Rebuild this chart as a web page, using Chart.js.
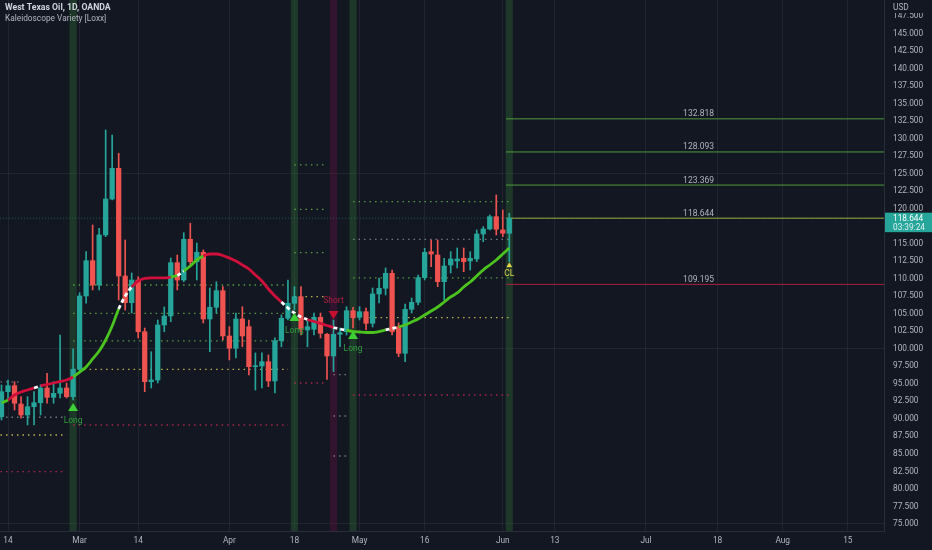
<!DOCTYPE html>
<html>
<head>
<meta charset="utf-8">
<script src="https://cdn.jsdelivr.net/npm/chart.js@4.4.1/dist/chart.umd.min.js"></script>
<style>
  html, body { margin: 0; padding: 0; background: #131722; }
  #wrap { width: 932px; height: 550px; }
</style>
</head>
<body>
<div id="wrap"><canvas id="grafico"></canvas></div>
<script>
// daily bars, index 0 = Feb 14 (weekends and Good Friday skipped)
var firstBar = -1;

var opens = [90.31, 93.88, 94.74, 92.13, 90.56, 91.74, 92.31, 94.41, 93.08, 93.65,
  94.41, 93.17, 97.08, 107.54, 112.58, 109.11, 116.25, 121.38, 125.76, 110.39,
  106.58, 109.82, 102.44, 95.31, 95.55, 103.40, 104.69, 112.29, 109.82, 115.63,
  112.44, 113.78, 104.26, 105.93, 108.30, 101.83, 100.08, 104.26, 103.16, 97.45,
  97.55, 98.16, 95.41, 101.16, 104.36, 106.50, 107.44, 102.69, 102.79, 104.50,
  102.07, 98.98, 102.07, 102.44, 105.44, 104.50, 105.30, 103.64, 107.83, 108.64,
  110.78, 103.16, 99.36, 105.64, 106.64, 110.15, 113.86, 113.39, 109.58, 111.96,
  112.54, 112.92, 112.54, 112.82, 116.39, 117.10, 118.86, 116.96, 116.49];

var highs = [94.84, 95.55, 95.31, 93.17, 93.17, 93.88, 94.84, 96.51, 95.31, 101.97,
  95.12, 99.98, 108.01, 113.86, 117.67, 117.20, 131.23, 130.52, 127.91, 115.53,
  110.82, 110.29, 102.97, 99.59, 104.11, 105.97, 112.96, 113.39, 116.57, 117.92,
  115.10, 114.11, 108.68, 109.58, 108.87, 103.16, 105.11, 106.01, 104.11, 99.41,
  99.41, 99.12, 101.55, 104.83, 109.82, 108.87, 108.87, 104.11, 105.11, 105.11,
  102.22, 104.11, 102.97, 106.01, 105.93, 106.01, 105.83, 108.68, 110.11, 111.54,
  111.25, 103.69, 106.40, 107.25, 110.54, 114.35, 115.53, 115.53, 112.92, 113.86,
  114.39, 114.39, 113.86, 116.96, 117.43, 119.10, 121.95, 119.81, 119.34];

var lows = [89.84, 92.70, 91.27, 90.09, 89.13, 89.13, 90.56, 92.23, 92.23, 92.98,
  92.98, 92.70, 96.51, 106.50, 108.40, 108.40, 116.00, 121.24, 106.97, 105.54,
  105.11, 101.55, 93.88, 94.41, 95.12, 102.44, 103.87, 108.40, 109.58, 111.72,
  109.82, 103.69, 99.59, 105.11, 101.26, 98.41, 98.69, 100.30, 96.27, 94.12,
  94.41, 94.60, 93.70, 100.30, 104.11, 105.54, 101.97, 100.30, 101.97, 101.55,
  95.65, 96.74, 100.30, 101.97, 102.97, 104.11, 102.69, 103.12, 106.54, 107.68,
  101.97, 98.88, 98.16, 105.11, 106.26, 109.82, 111.72, 108.87, 106.97, 110.82,
  111.54, 111.01, 111.25, 112.44, 115.29, 116.96, 116.25, 116.00, 112.44];

var closes = [93.88, 94.74, 92.23, 90.56, 91.74, 92.31, 94.41, 93.08, 93.65, 94.41,
  93.17, 97.08, 107.54, 112.58, 109.11, 116.25, 121.38, 125.76, 110.39, 106.58,
  109.82, 102.44, 95.31, 95.55, 103.40, 104.69, 112.29, 109.82, 115.63, 112.44,
  113.78, 104.26, 105.93, 108.30, 101.83, 100.08, 104.26, 101.83, 97.45, 97.59,
  98.16, 95.41, 101.16, 104.36, 106.50, 107.44, 102.79, 103.16, 104.50, 102.22,
  98.98, 102.07, 102.30, 105.44, 104.44, 105.30, 103.64, 107.83, 108.64, 110.78,
  102.44, 99.36, 105.64, 106.64, 110.15, 113.78, 113.53, 109.58, 111.82, 112.82,
  112.82, 112.44, 112.92, 116.39, 117.10, 118.86, 117.06, 116.49, 118.644];

// Kaleidoscope Variety line, one value per bar
var kaleido = [92.27, 92.70, 93.41, 93.84, 94.12, 94.41, 94.70, 94.91, 95.12, 95.34,
  95.55, 95.98, 96.69, 97.41, 98.55, 99.69, 101.26, 103.26, 105.68, 107.54,
  108.82, 109.68, 110.04, 110.11, 110.11, 110.11, 110.25, 110.47, 111.11, 111.82,
  112.68, 113.25, 113.53, 113.53, 113.32, 112.96, 112.53, 111.96, 111.39, 110.54,
  109.68, 108.54, 107.54, 106.68, 105.83, 105.11, 104.54, 104.19, 103.90, 103.62,
  103.33, 103.04, 102.83, 102.62, 102.47, 102.40, 102.33, 102.33, 102.47, 102.69,
  102.90, 103.12, 103.40, 103.83, 104.26, 104.83, 105.40, 105.97, 106.68, 107.40,
  107.97, 108.82, 109.54, 110.39, 111.25, 111.96, 112.68, 113.53, 114.39];
// u = up (green), d = down (red), t = transition (white dashes)
var kaleidoTrend = ['udddd', 't', 'ddddd', 'uuuuuuu', 'tt', 'dddddd', 'u', 't', 'uuu',
  'dddddddddddd', 'tttt', 'dddd', 'tt', 'uuuuuu', 'tt', 'uuuuuuuuuuuuuuuuuu'].join('');

// signals
var signalBars = [10, 44, 50, 53, 77];
var signalTypes = ['Long', 'Long', 'Short', 'Long', 'CL'];

// dotted levels of each signal
var levelFrom = [-2, -2, -2, -2, 10, 10, 10, 10, 10, 44, 44, 44, 44, 44, 50, 50, 50, 53, 53, 53, 53, 53];
var levelTo = [2, 9, 9, 9, 43, 43, 43, 43, 43, 49, 49, 49, 49, 49, 52, 52, 52, 77, 77, 77, 77, 77];
var levelPrice = [95.27, 90.23, 87.70, 82.46, 109.11, 105.07, 101.12, 97.08, 89.13,
  126.24, 119.91, 113.72, 107.44, 95.12, 96.31, 90.41, 84.70, 121.00, 115.63, 110.11, 104.44, 93.41];
var levelKind = ['hit', 'hit', 'entry', 'stop', 'tp', 'tp', 'tp', 'entry', 'stop',
  'tp', 'tp', 'tp', 'entry', 'stop', 'hit', 'hit', 'hit', 'tp', 'hit', 'tp', 'entry', 'stop'];

// levels projected after the last bar
var finalPrices = [132.818, 128.093, 123.369, 118.644, 109.195];
var finalKinds = ['tp', 'tp', 'tp', 'entry', 'stop'];

var xTickBars = [0, 11, 20, 34, 44, 54, 64, 76, 84, 98, 109, 119, 129];
var xTickLabels = ['14', 'Mar', '14', 'Apr', '18', 'May', '16', 'Jun', '13', 'Jul', '18', 'Aug', '15'];
var yTicks = [75, 77.5, 80, 82.5, 85, 87.5, 90, 92.5, 95, 97.5, 100, 102.5, 105, 107.5, 110,
  112.5, 115, 117.5, 120, 122.5, 125, 127.5, 130, 132.5, 135, 137.5, 140, 142.5, 145, 147.5];

var X_MIN = -1.23, X_MAX = 134.56;
var Y_MIN = 74.0, Y_MAX = 149.78;

var UP = '#26a69a', DOWN = '#ef5350';
var TEXT = '#b2b5be';
var FONT = 'Roboto, "Noto Sans", sans-serif';
var dotColors = { tp: 'rgba(95,170,70,0.9)', hit: 'rgba(165,170,180,0.65)', entry: 'rgba(205,195,85,0.9)', stop: 'rgba(195,40,80,0.85)' };
var solidColors = { tp: '#4f9a3a', entry: '#9aa83c', stop: '#a8203f' };
var lineColors = { u: '#4cc41f', d: '#d0103a', t: '#ffffff' };

function montarDatasets() {
  var corpos = [], pavios = [], cores = [], linha = [];
  for (var i = 0; i < closes.length; i++) {
    var bar = firstBar + i;
    corpos.push({ x: bar, y: [opens[i], closes[i]] });
    pavios.push({ x: bar, y: [lows[i], highs[i]] });
    cores.push(closes[i] >= opens[i] ? UP : DOWN);
    linha.push({ x: bar, y: kaleido[i] });
  }

  var sets = [];
  sets.push({
    type: 'bar', grouped: false, order: 10, barThickness: 6.5, borderWidth: 0,
    data: signalBars.map(function (b) { return { x: b, y: [Y_MIN, Y_MAX] }; }),
    backgroundColor: signalTypes.map(function (t) { return t == 'Short' ? 'rgba(136,14,79,0.28)' : 'rgba(56,142,60,0.28)'; })
  });

  for (var k = 0; k < levelPrice.length; k++) {
    sets.push({
      type: 'line', order: 8, borderWidth: 1.3, borderDash: [1.5, 4], pointRadius: 0,
      borderColor: dotColors[levelKind[k]],
      data: [{ x: levelFrom[k], y: levelPrice[k] }, { x: levelTo[k], y: levelPrice[k] }]
    });
  }

  sets.push({
    type: 'line', order: 7, borderWidth: 1, borderDash: [1, 2], pointRadius: 0,
    borderColor: 'rgba(38,166,154,0.45)',
    data: [{ x: X_MIN, y: closes[closes.length - 1] }, { x: X_MAX, y: closes[closes.length - 1] }]
  });

  for (var f = 0; f < finalPrices.length; f++) {
    sets.push({
      type: 'line', order: 6, borderWidth: 1, pointRadius: 0,
      borderColor: solidColors[finalKinds[f]],
      data: [{ x: 76.5, y: finalPrices[f] }, { x: X_MAX + 1, y: finalPrices[f] }]
    });
  }

  sets.push({ type: 'bar', grouped: false, order: 5, barThickness: 1, borderWidth: 0, data: pavios, backgroundColor: cores });
  sets.push({ type: 'bar', grouped: false, order: 4, barThickness: 4.6, minBarLength: 1, borderWidth: 0, data: corpos, backgroundColor: cores });

  sets.push({
    type: 'line', order: 3, data: linha, borderWidth: 2.8, pointRadius: 0,
    cubicInterpolationMode: 'monotone', borderColor: lineColors.u,
    segment: {
      borderColor: function (ctx) { return lineColors[kaleidoTrend[ctx.p0DataIndex]]; },
      borderDash: function (ctx) { return kaleidoTrend[ctx.p0DataIndex] == 't' ? [4, 3] : undefined; }
    }
  });
  return sets;
}

function triangulo(c, x, y, w, h, paraCima) {
  c.beginPath();
  if (paraCima) {
    c.moveTo(x, y - h / 2); c.lineTo(x + w / 2, y + h / 2); c.lineTo(x - w / 2, y + h / 2);
  } else {
    c.moveTo(x, y + h / 2); c.lineTo(x + w / 2, y - h / 2); c.lineTo(x - w / 2, y - h / 2);
  }
  c.closePath();
  c.fill();
}

var fundo = {
  id: 'fundo',
  beforeDraw: function (chart) {
    var c = chart.ctx;
    c.save();
    c.fillStyle = '#131722';
    c.fillRect(0, 0, chart.width, chart.height);
    c.restore();
  }
};

var extras = {
  id: 'extras',
  afterDatasetsDraw: function (chart) {
    var c = chart.ctx, xs = chart.scales.x, ys = chart.scales.y;
    c.save();
    c.textAlign = 'center';
    c.textBaseline = 'middle';
    for (var s = 0; s < signalBars.length; s++) {
      var i = signalBars[s] - firstBar;
      var x = xs.getPixelForValue(signalBars[s]);
      var t = signalTypes[s];
      if (t == 'Long') {
        var yl = ys.getPixelForValue(lows[i]);
        c.fillStyle = '#3fcf36';
        triangulo(c, x, yl + 7, 10, 8, true);
        c.fillStyle = '#2f9c3c';
        c.font = '8.5px ' + FONT;
        c.fillText('Long', x, yl + 21);
      } else if (t == 'Short') {
        var yh = ys.getPixelForValue(highs[i]);
        c.fillStyle = '#c8102e';
        triangulo(c, x, yh - 5, 10, 8, false);
        c.fillStyle = '#a8203f';
        c.font = '8.5px ' + FONT;
        c.fillText('Short', x, yh - 19);
      } else {
        var yc = ys.getPixelForValue(lows[i]);
        c.fillStyle = '#e3d24c';
        triangulo(c, x, yc + 3, 6, 5, true);
        c.font = '8.5px ' + FONT;
        c.fillText('CL', x, yc + 12);
      }
    }

    // labels of the projected levels
    c.fillStyle = TEXT;
    c.font = '8.5px ' + FONT;
    c.textAlign = 'left';
    c.textBaseline = 'alphabetic';
    for (var f = 0; f < finalPrices.length; f++) {
      c.fillText(finalPrices[f].toFixed(3), xs.getPixelForValue(103.7), ys.getPixelForValue(finalPrices[f]) - 2.5);
    }
    c.restore();
  },
  afterDraw: function (chart) {
    var c = chart.ctx, ys = chart.scales.y, area = chart.chartArea;
    c.save();
    c.textBaseline = 'middle';
    c.textAlign = 'left';
    c.fillStyle = '#d1d4dc';
    c.font = 'bold 8.7px ' + FONT;
    c.fillText('West Texas Oil, 1D, OANDA', 5, 8);
    c.fillStyle = TEXT;
    c.font = '8.3px ' + FONT;
    c.fillText('Kaleidoscope Variety [Loxx]', 5, 19);

    // axis header and last price box
    c.fillStyle = '#131722';
    c.fillRect(area.right + 1, 0, chart.width - area.right, 13);
    c.fillStyle = TEXT;
    c.font = '8.3px ' + FONT;
    c.fillText('USD', area.right + 9, 8);

    var last = closes[closes.length - 1];
    var yp = ys.getPixelForValue(last);
    c.fillStyle = UP;
    c.fillRect(area.right + 1, yp - 5.5, chart.width - area.right - 1, 19.5);
    c.fillStyle = '#ffffff';
    c.fillText(last.toFixed(3), area.right + 9, yp + 0.5);
    c.fillStyle = 'rgba(255,255,255,0.85)';
    c.fillText('03:39:24', area.right + 9, yp + 9.5);
    c.restore();
  }
};

new Chart(document.getElementById('grafico'), {
  type: 'bar',
  data: { datasets: montarDatasets() },
  options: {
    animation: false,
    responsive: true,
    maintainAspectRatio: false,
    layout: { padding: 0 },
    plugins: { legend: { display: false }, tooltip: { enabled: false } },
    scales: {
      x: {
        type: 'linear', min: X_MIN, max: X_MAX, offset: false,
        grid: { offset: false, color: 'rgba(42,46,57,0.6)', drawTicks: false },
        border: { display: true, color: '#2a2e39' },
        afterBuildTicks: function (scale) {
          scale.ticks = xTickBars.map(function (v) { return { value: v }; });
        },
        afterFit: function (scale) {
          scale.height = 19; scale.paddingLeft = 0; scale.paddingRight = 0;
        },
        ticks: {
          autoSkip: false, maxRotation: 0, padding: 5, color: TEXT,
          font: { family: FONT, size: 8.3 },
          callback: function (value) {
            var k = xTickBars.indexOf(value);
            return k >= 0 ? xTickLabels[k] : '';
          }
        }
      },
      y: {
        position: 'right', min: Y_MIN, max: Y_MAX,
        grid: {
          drawTicks: false,
          color: function (ctx) { return ctx.tick && ctx.tick.value % 25 === 0 ? 'rgba(42,46,57,0.6)' : 'rgba(0,0,0,0)'; }
        },
        border: { display: true, color: '#2a2e39' },
        afterBuildTicks: function (scale) {
          scale.ticks = yTicks.map(function (v) { return { value: v }; });
        },
        afterFit: function (scale) {
          scale.width = 48; scale.paddingTop = 0; scale.paddingBottom = 0;
        },
        ticks: {
          padding: 9, color: TEXT, font: { family: FONT, size: 8.3 },
          callback: function (value) { return value.toFixed(3); }
        }
      }
    }
  },
  plugins: [fundo, extras]
});
</script>
</body>
</html>
